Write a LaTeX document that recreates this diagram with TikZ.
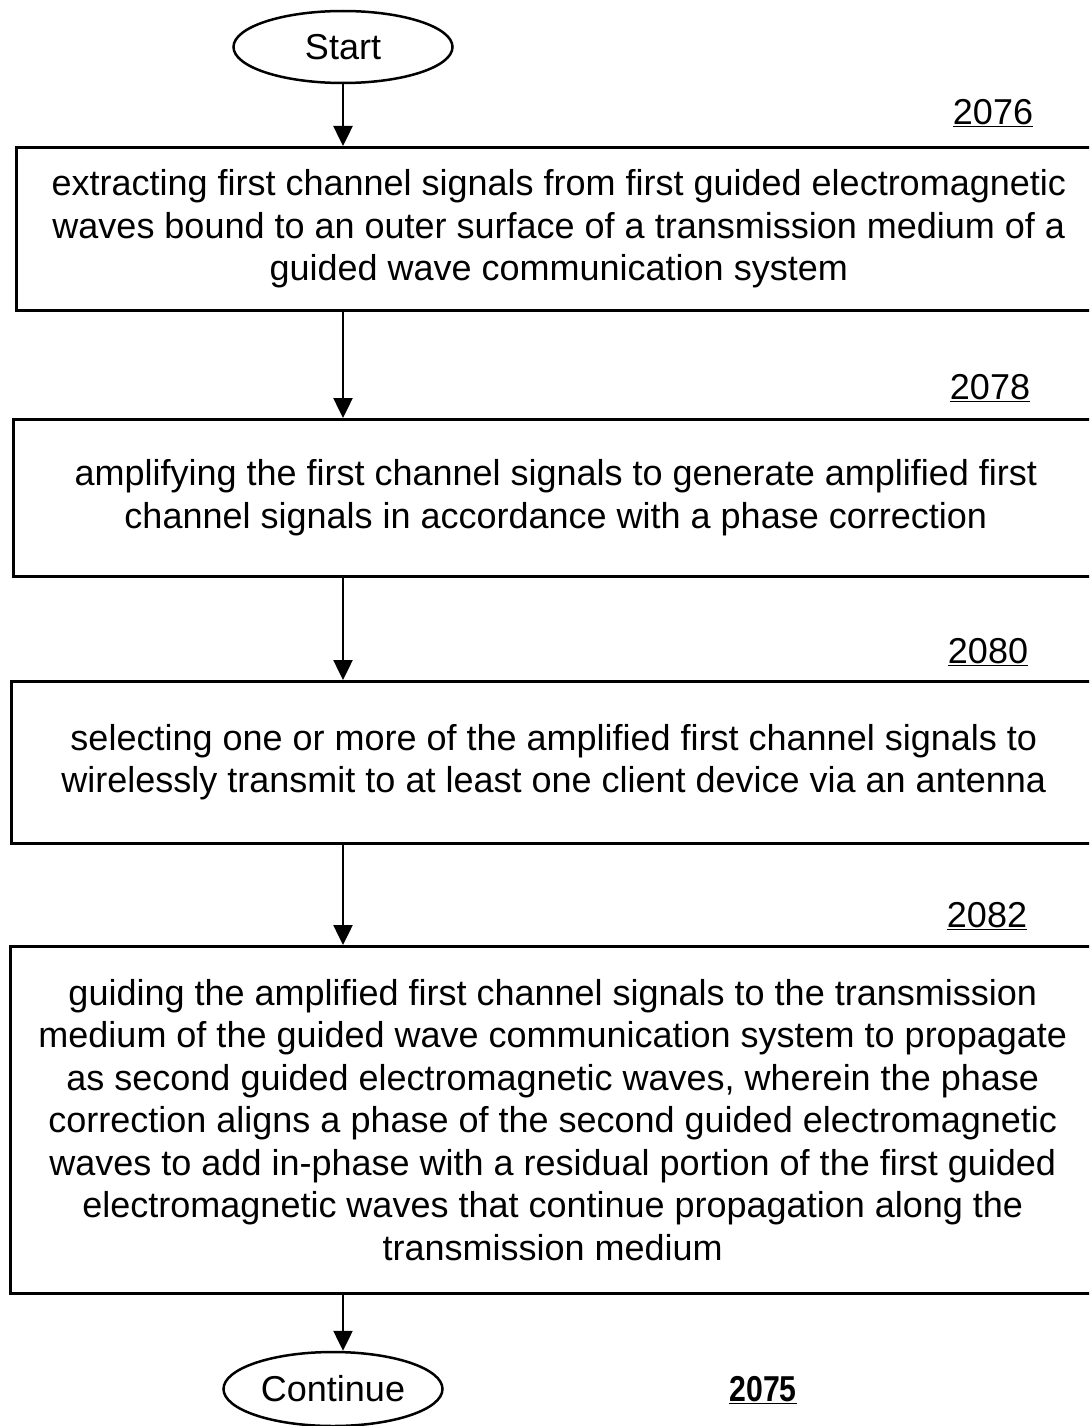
\documentclass[tikz,border=0pt]{standalone}
\usepackage{fontspec}
\setmainfont{Liberation Sans}
\usetikzlibrary{positioning,shapes.geometric,arrows.meta}
\tikzset{stepbox/.style={draw,rectangle,line width=2.5pt,minimum width=1085pt,align=center,inner sep=0pt,font=\fontsize{36}{42.5}\selectfont}}
\tikzset{term/.style={draw,ellipse,line width=2.5pt,minimum width=219pt,minimum height=72pt,inner sep=0pt,font=\fontsize{36}{40}\selectfont}}
\tikzset{ref/.style={inner sep=0pt,font=\fontsize{36}{40}\selectfont}}
\tikzset{>={Triangle[length=20pt,width=19pt]}}

\begin{document}
\begin{tikzpicture}[x=1pt,y=-1pt]
\useasboundingbox (0,0) rectangle (1089,1426);
\clip (0,0) rectangle (1089,1426);

  % terminals
  \node[term] (start) at (343,47) {Start};
  \node[term,minimum height=74pt] (cont) at (333,1389) {Continue};

  % steps
  \node[stepbox,minimum height=163pt,anchor=north west] (s2076) at (15,146)
    {extracting first channel signals from first guided electromagnetic\\
     waves bound to an outer surface of a transmission medium of a\\
     guided wave communication system};
  \node[stepbox,minimum height=157pt,anchor=north west] (s2078) at (12,418)
    {amplifying the first channel signals to generate amplified first\\
     channel signals in accordance with a phase correction};
  \node[stepbox,minimum height=162pt,anchor=north west] (s2080) at (10,680)
    {selecting one or more of the amplified first channel signals to\\
     wirelessly transmit to at least one client device via an antenna};
  \node[stepbox,minimum height=347pt,anchor=north west] (s2082) at (9,945)
    {guiding the amplified first channel signals to the transmission\\
     medium of the guided wave communication system to propagate\\
     as second guided electromagnetic waves, wherein the phase\\
     correction aligns a phase of the second guided electromagnetic\\
     waves to add in-phase with a residual portion of the first guided\\
     electromagnetic waves that continue propagation along the\\
     transmission medium};

  % reference numerals
  \node[ref] (n2076) at (993,113) {\underline{2076}};
  \node[ref] (n2078) at (990,388) {\underline{2078}};
  \node[ref] (n2080) at (988,652) {\underline{2080}};
  \node[ref] (n2082) at (987,916) {\underline{2082}};
  \node[ref] (n2075) at (763,1390) {\scalebox{0.84}[1]{\textbf{\underline{2075}}}};

  \draw[->,line width=2.5pt] (start.south) -- (start.south |- s2076.north);
  \draw[->,line width=2.5pt] (s2076.south -| start) -- (s2078.north -| start);
  \draw[->,line width=2.5pt] (s2078.south -| start) -- (s2080.north -| start);
  \draw[->,line width=2.5pt] (s2080.south -| start) -- (s2082.north -| start);
  \draw[->,line width=2.5pt] (s2082.south -| start) -- (cont.north -| start);
\end{tikzpicture}
\end{document}
